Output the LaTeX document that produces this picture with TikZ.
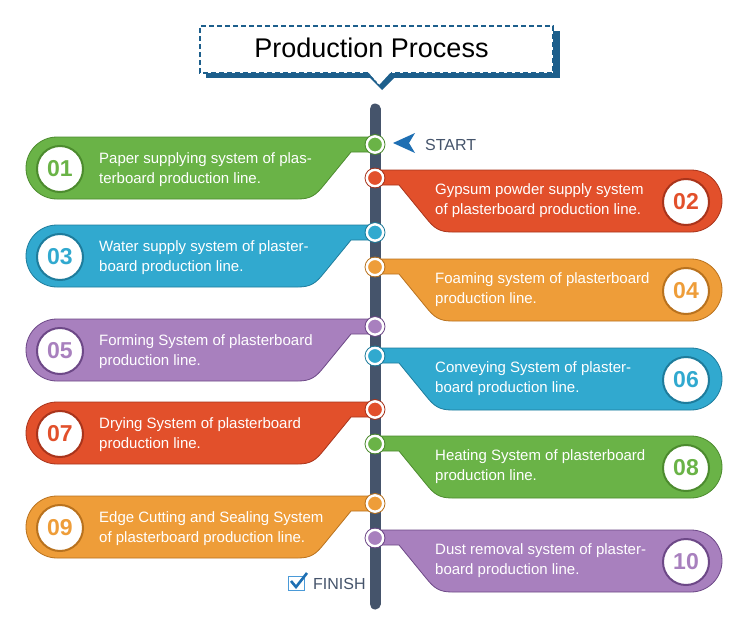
\documentclass[tikz,border=0pt]{standalone}
\usepackage{fontspec}
\setmainfont{Liberation Sans}
\definecolor{cG}{HTML}{6AB347}\definecolor{dG}{HTML}{4C8B2E}
\definecolor{cR}{HTML}{E2502B}\definecolor{dR}{HTML}{A9341B}
\definecolor{cB}{HTML}{31A9CF}\definecolor{dB}{HTML}{1E7C9C}
\definecolor{cO}{HTML}{EE9D39}\definecolor{dO}{HTML}{B9721E}
\definecolor{cP}{HTML}{A880BE}\definecolor{dP}{HTML}{6D4887}
\definecolor{barcol}{HTML}{45546B}
\definecolor{titleblue}{HTML}{1D5F8C}
\definecolor{startblue}{HTML}{1E6FB3}
\definecolor{boxblue}{HTML}{4A9AD8}
\tikzset{
  numc/.style={circle, fill=white, line width=2pt, minimum size=46pt, inner sep=0pt, font=\fontsize{23}{23}\selectfont\bfseries},
  body/.style={font=\fontsize{15}{20}\selectfont, text=white, align=left, inner sep=0pt},
  dotc/.style={circle, draw=white, line width=2.6pt, minimum size=16.5pt, inner sep=0pt},
  shapeline/.style={line width=0.8pt},
  lbl/.style={font=\fontsize{16}{16}\selectfont, text=barcol, inner sep=0pt, anchor=base west}
}
\newcommand\LRow[6]{%
  \filldraw[shapeline, draw=#3, fill=#2] (57,#1) -- (375,#1) -- (375,#1+15) -- (351,#1+15) -- (324,#1+48) .. controls (316,#1+58) and (311,#1+62) .. (298,#1+62) -- (57,#1+62) arc[start angle=90, end angle=270, radius=31] -- cycle;
  \node[numc, draw=#3, text=#2] (num#4) at (60,#1+32) {#4};
  \node[body, anchor=base west] (txt#4) at (99,#1+46) {#5\\#6};
  \node[dotc, fill=#2] (dot#4) at (375,#1+7.5) {};
  \draw[#3, line width=0.8pt] (dot#4) circle[radius=10];
}
\newcommand\RRow[6]{%
  \filldraw[shapeline, draw=#3, fill=#2] (375,#1) -- (691,#1) arc[start angle=-90, end angle=90, radius=31] -- (452,#1+62) .. controls (439,#1+62) and (434,#1+58) .. (426,#1+48) -- (399,#1+15) -- (375,#1+15) -- cycle;
  \node[numc, draw=#3, text=#2] (num#4) at (686,#1+32) {#4};
  \node[body, anchor=base west] (txt#4) at (435,#1+44) {#5\\#6};
  \node[dotc, fill=#2] (dot#4) at (375,#1+8) {};
  \draw[#3, line width=0.8pt] (dot#4) circle[radius=10];
}
\begin{document}
\begin{tikzpicture}[x=1pt,y=-1pt]
\useasboundingbox[fill=white] (0,0) rectangle (750,621);
% title
\fill[titleblue] (206,31) rectangle (560,78);
\fill[titleblue] (368,76) -- (396,76) -- (382,90) -- cycle;
\fill[white] (200,26) rectangle (553,73);
\fill[white] (368,72) -- (391,72) -- (379,85) -- cycle;
\draw[titleblue, line width=1.6pt, dash pattern=on 5pt off 3pt] (368,73) -- (200,73) -- (200,26) -- (553,26) -- (553,73) -- (391,73);
\draw[titleblue, line width=0.8pt, dash pattern=on 3pt off 2pt] (368,73) -- (379,85);
\node[font=\fontsize{27}{27}\selectfont, anchor=base, inner sep=0pt] (title) at (371.5,57) {Production Process};
% bar
\coordinate (bartop) at (375,109);
\coordinate (barbot) at (375,604);
\draw[barcol, line width=11pt, line cap=round] (bartop) -- (barbot);
% rows
\LRow{137}{cG}{dG}{01}{Paper supplying system of plas-}{terboard production line.}
\RRow{170}{cR}{dR}{02}{Gypsum powder supply system}{of plasterboard production line.}
\LRow{225}{cB}{dB}{03}{Water supply system of plaster-}{board production line.}
\RRow{259}{cO}{dO}{04}{Foaming system of plasterboard}{production line.}
\LRow{319}{cP}{dP}{05}{Forming System of plasterboard}{production line.}
\RRow{348}{cB}{dB}{06}{Conveying System of plaster-}{board production line.}
\LRow{402}{cR}{dR}{07}{Drying System of plasterboard}{production line.}
\RRow{436}{cG}{dG}{08}{Heating System of plasterboard}{production line.}
\LRow{496}{cO}{dO}{09}{Edge Cutting and Sealing System}{of plasterboard production line.}
\RRow{530}{cP}{dP}{10}{Dust removal system of plaster-}{board production line.}
% start
\fill[startblue] (393,143) -- (415,133) -- (409,143) -- (415,153) -- cycle;
\node[lbl] (start) at (425,150) {START};
% finish
\draw[boxblue, line width=0.7pt] (288,576) rectangle (304,590);
\draw[startblue, line width=2.6pt] (291,581) -- (296,587) -- (307,573);
\node[lbl] (finish) at (313,589) {FINISH};
\end{tikzpicture}
\end{document}
